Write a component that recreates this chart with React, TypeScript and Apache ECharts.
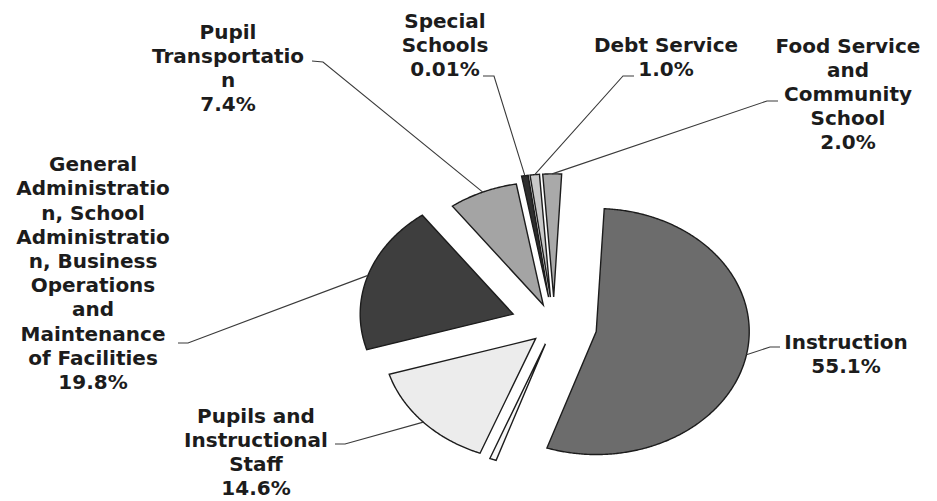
import React, { useEffect, useRef } from 'react';
import * as echarts from 'echarts';

// ---- data ----
const categories = [
  'Instruction',
  '',
  'Pupils and\nInstructional\nStaff',
  'General\nAdministratio\nn, School\nAdministratio\nn, Business\nOperations\nand\nMaintenance\nof Facilities',
  'Pupil\nTransportatio\nn',
  'Special\nSchools',
  'Debt Service',
  'Food Service\nand\nCommunity\nSchool',
];
const percentLabels = ['55.1%', '', '14.6%', '19.8%', '7.4%', '0.01%', '1.0%', '2.0%'];
const values = [55.1, 0.09, 14.6, 19.8, 7.4, 0.01, 1.0, 2.0];

// ---- styling / layout (not data) ----
const colors = ['#6c6c6c', '#f7f7f7', '#ececec', '#3e3e3e', '#a4a4a4', '#2e2e2e', '#c9c9c9', '#a9a9a9'];
const explode = [43, 25, 25, 43, 27, 35, 35, 35];
const labelCenters: number[][] = [
  [846, 354], [0, 0], [256, 452], [93, 273], [228, 68], [445, 45], [666, 57], [848, 94],
];
const leaderStarts: number[][][] = [
  [[780, 347], [770, 347]],
  [],
  [[335, 444], [345, 444]],
  [[178, 343], [188, 343]],
  [[312, 61], [323, 62]],
  [[483, 76], [494, 76]],
  [[634, 76], [623, 76]],
  [[778, 101], [767, 101]],
];

const RX = 153;
const RY = 123;
const CX = 554;
const CY = 325;
const START = 3;
const MIN_ANGLE = 2.5;

const rad = (d: number) => (d * Math.PI) / 180;

function sliceAngles(vals: number[]) {
  const total = vals.reduce((a, b) => a + b, 0);
  const raw = vals.map((v) => (v / total) * 360);
  const small = raw.map((a) => a < MIN_ANGLE);
  const fixed = small.filter(Boolean).length * MIN_ANGLE;
  const rest = raw.reduce((s, a, i) => (small[i] ? s : s + a), 0);
  const k = (360 - fixed) / rest;
  return raw.map((a, i) => (small[i] ? MIN_ANGLE : a * k));
}

export default function App() {
  const ref = useRef<HTMLDivElement>(null);
  useEffect(() => {
    if (!ref.current) return;
    const chart = echarts.init(ref.current, undefined, { renderer: 'svg' });
    const angles = sliceAngles(values);
    const starts: number[] = [];
    let acc = START;
    angles.forEach((a) => {
      starts.push(acc);
      acc += a;
    });

    const renderItem = (params: any, api: any) => {
      const i = params.dataIndex;
      api.value(0);
      const a0 = starts[i];
      const a1 = a0 + angles[i];
      const mid = (a0 + a1) / 2;
      const d = explode[i];
      const tx = CX + d * Math.sin(rad(mid));
      const ty = CY - d * (RY / RX) * Math.cos(rad(mid));
      const pts: number[][] = [[tx, ty]];
      const steps = Math.max(2, Math.ceil((a1 - a0) / 0.5));
      for (let s = 0; s <= steps; s++) {
        const a = a0 + ((a1 - a0) * s) / steps;
        pts.push([tx + RX * Math.sin(rad(a)), ty - RY * Math.cos(rad(a))]);
      }
      const children: any[] = [
        {
          type: 'polygon',
          shape: { points: pts },
          style: { fill: colors[i], stroke: '#1c1c1c', lineWidth: 1.4, lineJoin: 'miter' },
        },
      ];
      if (categories[i]) {
        const attach = [tx + RX * Math.sin(rad(mid)), ty - RY * Math.cos(rad(mid))];
        children.push({
          type: 'polyline',
          shape: { points: [...leaderStarts[i], attach] },
          style: { stroke: '#3a3a3a', lineWidth: 1.1, fill: 'none' },
          z2: 5,
        });
        children.push({
          type: 'text',
          style: {
            text: categories[i] + '\n' + percentLabels[i],
            x: labelCenters[i][0],
            y: labelCenters[i][1],
            align: 'center',
            verticalAlign: 'middle',
            fontFamily: 'DejaVu Sans',
            fontWeight: 'bold',
            fontSize: 20,
            lineHeight: 24.2,
            fill: '#1c1c1c',
          },
          z2: 10,
        });
      }
      return { type: 'group', children };
    };

    chart.setOption({
      animation: false,
      backgroundColor: '#ffffff',
      series: [
        {
          type: 'custom',
          coordinateSystem: 'none',
          silent: true,
          clip: false,
          renderItem,
          data: values.map((v, i) => ({ value: v, name: categories[i] })),
        },
      ],
    });
    return () => chart.dispose();
  }, []);
  return (
    <div
      ref={ref}
      style={{ position: 'fixed', left: 0, top: 0, width: 937, height: 501, background: '#fff' }}
    />
  );
}
